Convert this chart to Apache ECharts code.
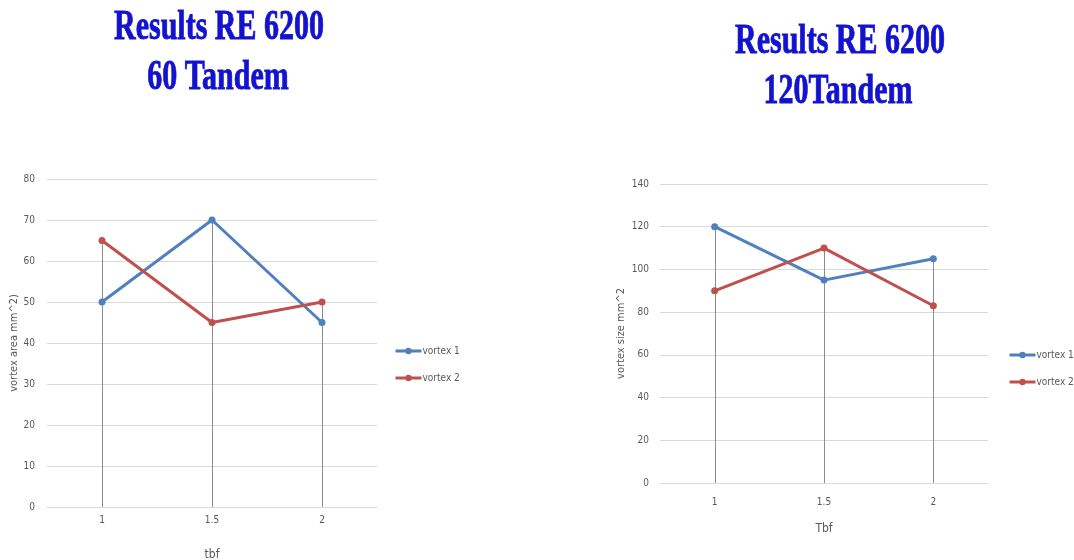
<!DOCTYPE html>
<html>
<head>
<meta charset="utf-8">
<script src="https://cdn.jsdelivr.net/npm/echarts@6/dist/echarts.min.js"></script>
<style>
  html, body { margin: 0; padding: 0; background: #ffffff; }
  #chart { width: 1074px; height: 560px; }
</style>
</head>
<body>
<div id="chart"></div>
<script>
// Tbf categories shared by both panels
const categories = ['1', '1.5', '2'];

// 60 Tandem: vortex area (mm^2)
const tandem60Vortex1 = [50, 70, 45];
const tandem60Vortex2 = [65, 45, 50];

// 120 Tandem: vortex size (mm^2)
const tandem120Vortex1 = [120, 95, 105];
const tandem120Vortex2 = [90, 110, 83];

const seriesNames = ['vortex 1', 'vortex 2'];
const titlesLeft = ['Results RE 6200', '60 Tandem'];
const titlesRight = ['Results RE 6200', '120Tandem'];

const BLUE = '#4f81bd';
const RED = '#c0504d';
const LABEL_FONT = '"Liberation Sans Narrow", "DejaVu Sans Condensed", "Liberation Sans", sans-serif';

// drop lines: from the higher of the two points at each category down to zero
function dropData(a, b) {
  return a.map((v, i) => [i, Math.max(v, b[i])]);
}
function dropRender(params, api) {
  const top = api.coord([api.value(0), api.value(1)]);
  const bottom = api.coord([api.value(0), 0]);
  return {
    type: 'line',
    shape: { x1: Math.round(top[0]) + 0.5, y1: top[1], x2: Math.round(bottom[0]) + 0.5, y2: bottom[1] },
    style: { stroke: '#8c8c8c', lineWidth: 1 }
  };
}

function titleText(text, x, y) {
  return {
    type: 'text',
    x: x, y: y,
    scaleY: 1.38,
    style: {
      text: text,
      x: 0, y: 0,
      fill: '#1212cf',
      stroke: '#1212cf',
      lineWidth: 0.6,
      font: 'bold 30px "Liberation Serif", "DejaVu Serif", serif',
      textAlign: 'center',
      textVerticalAlign: 'middle'
    },
    silent: true
  };
}

function xAxisCfg(gridIndex, name, gap, margin) {
  return {
    type: 'category', gridIndex: gridIndex, data: categories, boundaryGap: true,
    name: name, nameLocation: 'middle', nameGap: gap,
    nameTextStyle: { color: '#595959', fontSize: 12, fontFamily: LABEL_FONT },
    axisLine: { show: true, lineStyle: { color: '#d9d9d9', width: 1 } },
    axisTick: { show: false },
    axisLabel: { color: '#595959', fontSize: 10, fontFamily: LABEL_FONT, margin: margin },
    splitLine: { show: false }
  };
}
function yAxisCfg(gridIndex, name, max, interval, gap, margin) {
  return {
    type: 'value', gridIndex: gridIndex, min: 0, max: max, interval: interval,
    name: name, nameLocation: 'middle', nameGap: gap, nameRotate: 90,
    nameTextStyle: { color: '#595959', fontSize: 11, fontFamily: LABEL_FONT },
    axisLine: { show: false }, axisTick: { show: false },
    axisLabel: { color: '#595959', fontSize: 10, fontFamily: LABEL_FONT, margin: margin },
    splitLine: { show: true, lineStyle: { color: '#d9d9d9', width: 1 } }
  };
}
function lineSeries(name, data, color, axisIdx) {
  return {
    name: name, type: 'line', xAxisIndex: axisIdx, yAxisIndex: axisIdx,
    data: data, z: 3,
    symbol: 'circle', symbolSize: 7,
    lineStyle: { color: color, width: 3 },
    itemStyle: { color: color },
    emphasis: { disabled: true }
  };
}
function legendCfg(left, top) {
  return {
    data: seriesNames, orient: 'vertical', left: left, top: top,
    itemWidth: 26, itemHeight: 8, itemGap: 17,
    lineStyle: { width: 3 },
    textStyle: { color: '#595959', fontSize: 10, fontFamily: LABEL_FONT, padding: [0, 0, 0, -4] }
  };
}

const chart = echarts.init(document.getElementById('chart'), null, { renderer: 'canvas' });
chart.setOption({
  animation: false,
  backgroundColor: '#ffffff',
  graphic: [
    titleText(titlesLeft[0], 219, 28),
    titleText(titlesLeft[1], 218, 78),
    titleText(titlesRight[0], 840, 42),
    titleText(titlesRight[1], 838, 92)
  ],
  legend: [legendCfg(389, 341), legendCfg(1003, 345)],
  grid: [
    { left: 47, top: 179, width: 330, height: 328, outerBoundsMode: 'none', containLabel: false },
    { left: 660, top: 184, width: 328, height: 299, outerBoundsMode: 'none', containLabel: false }
  ],
  xAxis: [xAxisCfg(0, 'tbf', 42, 8), xAxisCfg(1, 'Tbf', 40, 14)],
  yAxis: [
    yAxisCfg(0, 'vortex area mm^2)', 80, 10, 25, 12),
    yAxisCfg(1, 'vortex size mm^2', 140, 20, 33, 11)
  ],
  series: [
    { type: 'custom', xAxisIndex: 0, yAxisIndex: 0, renderItem: dropRender,
      data: dropData(tandem60Vortex1, tandem60Vortex2), z: 1, silent: true },
    { type: 'custom', xAxisIndex: 1, yAxisIndex: 1, renderItem: dropRender,
      data: dropData(tandem120Vortex1, tandem120Vortex2), z: 1, silent: true },
    lineSeries(seriesNames[0], tandem60Vortex1, BLUE, 0),
    lineSeries(seriesNames[1], tandem60Vortex2, RED, 0),
    lineSeries(seriesNames[0], tandem120Vortex1, BLUE, 1),
    lineSeries(seriesNames[1], tandem120Vortex2, RED, 1)
  ]
});
</script>
</body>
</html>
